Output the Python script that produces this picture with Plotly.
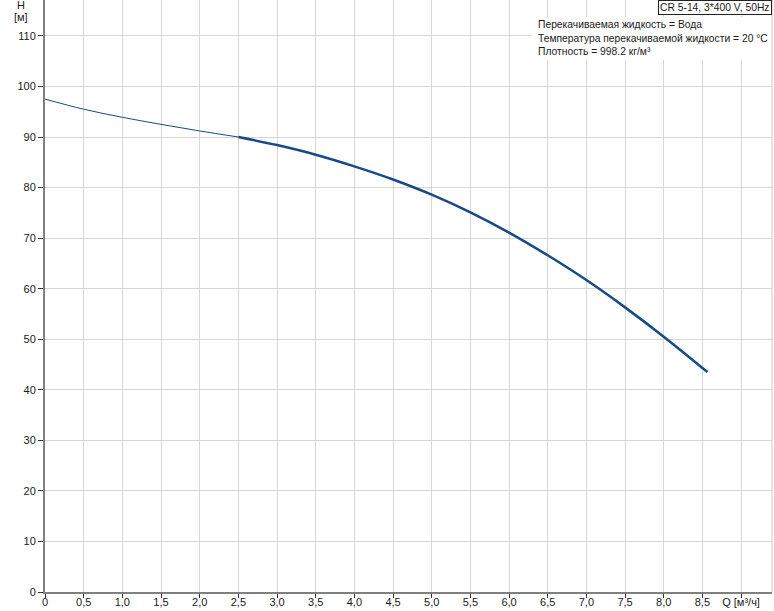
import plotly.graph_objects as go

# Data
q_thin = [0, 0.5, 1.0, 1.5, 2.0, 2.5]
h_thin = [97.5, 95.5, 93.9, 92.5, 91.2, 90.0]
q_thick = [2.5, 3.0, 3.5, 4.0, 4.5, 5.0, 5.5, 6.0, 6.5, 7.0, 7.5, 8.0, 8.565]
h_thick = [90.0, 88.4, 86.5, 84.2, 81.6, 78.6, 75.1, 71.1, 66.6, 61.7, 56.3, 50.5, 43.5]

x_tickvals = [0, 0.5, 1.0, 1.5, 2.0, 2.5, 3.0, 3.5, 4.0, 4.5, 5.0, 5.5, 6.0, 6.5, 7.0, 7.5, 8.0, 8.5, 9.0]
x_ticktext = ["0", "0,5", "1,0", "1,5", "2,0", "2,5", "3,0", "3,5", "4,0", "4,5", "5,0",
              "5,5", "6,0", "6,5", "7,0", "7,5", "8,0", "8,5", "Q [м³/ч]"]
y_tickvals = [0, 10, 20, 30, 40, 50, 60, 70, 80, 90, 100, 110]

title_text = "CR 5-14, 3*400 V, 50Hz"
info_lines = ["Перекачиваемая жидкость = Вода",
              "Температура перекачиваемой жидкости = 20 °C",
              "Плотность = 998.2 кг/м³"]

W, H = 774, 611
ML, MR, MT, MB = 45, 2, 0, 19
PW, PH = W - ML - MR, H - MT - MB

line_color = "#174a86"
font = dict(family="Liberation Sans, Arial, sans-serif", size=11, color="#1a1a1a")
small_font = dict(family="Liberation Sans, Arial, sans-serif", size=10.3, color="#1a1a1a")

fig = go.Figure()
fig.add_trace(go.Scatter(x=q_thin, y=h_thin, mode="lines",
                         line=dict(color=line_color, width=1, shape="spline", smoothing=1.0),
                         hoverinfo="skip", showlegend=False))
fig.add_trace(go.Scatter(x=q_thick, y=h_thick, mode="lines",
                         line=dict(color=line_color, width=2.5, shape="spline", smoothing=1.0),
                         hoverinfo="skip", showlegend=False))

def px_x(px):
    return (px - ML) / PW

def px_y(py):
    return 1 - (py - MT) / PH

annotations = [
    dict(text="H", x=px_x(21), y=px_y(5), xref="paper", yref="paper",
         showarrow=False, xanchor="center", yanchor="middle", font=font),
    dict(text="[м]", x=px_x(21), y=px_y(17), xref="paper", yref="paper",
         showarrow=False, xanchor="center", yanchor="middle", font=font),
    dict(text=title_text, x=px_x(772), y=1.0, xref="paper", yref="paper",
         showarrow=False, xanchor="right", yanchor="top", font=small_font,
         bgcolor="white", bordercolor="#222222", borderwidth=1, borderpad=1),
]
for i, line in enumerate(info_lines):
    annotations.append(dict(text=line, x=px_x(536), y=px_y(25 + 13.5 * i), xref="paper", yref="paper",
                            showarrow=False, xanchor="left", yanchor="middle", align="left",
                            font=small_font))

fig.update_layout(
    width=W, height=H,
    margin=dict(l=ML, r=MR, t=MT, b=MB, pad=0, autoexpand=False),
    paper_bgcolor="white", plot_bgcolor="white",
    font=font,
    annotations=annotations,
    shapes=[
        dict(type="line", xref="paper", yref="paper", x0=1, x1=1, y0=0, y1=1,
             line=dict(color="#c8c8c8", width=1), layer="below"),
        dict(type="rect", xref="paper", yref="paper", x0=px_x(532), x1=px_x(771),
             y0=px_y(60), y1=px_y(17), fillcolor="white", line=dict(width=0), layer="above"),
    ],
)
fig.update_xaxes(range=[0, 9.40], tickmode="array", tickvals=x_tickvals, ticktext=x_ticktext,
                 showgrid=True, gridcolor="#d6d6d6", gridwidth=1,
                 showline=True, linecolor="#808080", linewidth=2,
                 ticks="outside", ticklen=4, tickcolor="#333333", tickwidth=1,
                 ticklabelstandoff=-5,
                 zeroline=False, tickfont=font, fixedrange=True, automargin=False)
fig.update_yaxes(range=[0, 117.1], tickmode="array", tickvals=y_tickvals,
                 showgrid=True, gridcolor="#d6d6d6", gridwidth=1,
                 showline=True, linecolor="#808080", linewidth=2,
                 ticks="outside", ticklen=5, tickcolor="#333333", tickwidth=1,
                 zeroline=False, tickfont=font, fixedrange=True, automargin=False)

fig.write_html("out.html", config={"displayModeBar": False},
               post_script="document.body.style.margin='0';document.body.style.overflow='hidden';")
